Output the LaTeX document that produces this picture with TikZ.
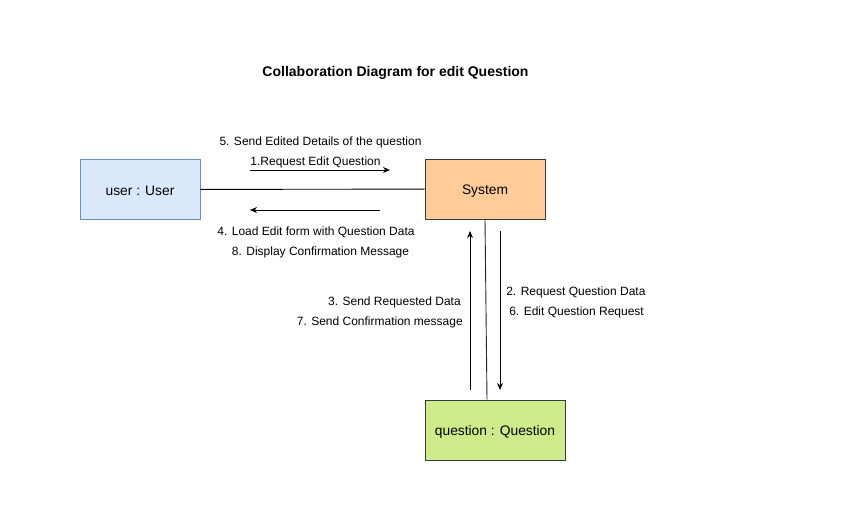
\documentclass[tikz,border=0pt]{standalone}
\usepackage{fontspec}
\setmainfont{Liberation Sans}
\usetikzlibrary{arrows.meta}
\definecolor{userfill}{HTML}{DAE8FC}
\definecolor{userline}{HTML}{6C8EBF}
\definecolor{sysfill}{HTML}{FFCC99}
\definecolor{qfill}{HTML}{CDEB8B}
\definecolor{boxline}{HTML}{36393D}
\begin{document}
\begin{tikzpicture}[x=1pt,y=-1pt,semithick]
        \tikzstyle{objnode}=[
            rectangle,
            draw=boxline,
            minimum width=120pt,
            minimum height=60pt,
            inner sep=0pt,
            text height=11.5pt,
            text depth=0pt,
            font=\fontsize{13.8}{16}\selectfont
        ]
        \tikzstyle{msglabel}=[
            inner sep=0pt,
            font=\fontsize{12}{14}\selectfont
        ]
        \tikzstyle{msgarrow}=[-{Stealth[length=7pt,width=6pt]}, line width=0.9pt]

        \useasboundingbox (0,0) rectangle (850,523);

        \node[font=\bfseries\fontsize{14}{16}\selectfont] (title) at (395.5,72.5){Collaboration Diagram for edit Question};

        \node[objnode, fill=userfill, draw=userline] (U) at (140,189.5){user : User};
        \node[objnode, fill=sysfill] (S) at (485,189){System};
        \node[objnode, fill=qfill, minimum width=140pt] (Q) at (495,430){question : Question};

        % links
        \draw[line width=0.9pt] (U) -- (S);
        \draw[line width=0.9pt, black!85] (S.south) -- (Q.north -| 487,0);

        % message arrows
        \coordinate (r1) at (250,170);
        \coordinate (r2) at (390,170);
        \coordinate (l1) at (380,210);
        \coordinate (l2) at (250,210);
        \coordinate (u1) at (470,390);
        \coordinate (u2) at (470,231);
        \coordinate (d1) at (500,231);
        \coordinate (d2) at (500,390);
        \draw[msgarrow] (r1) -- (r2);
        \draw[msgarrow] (l1) -- (l2);
        \draw[msgarrow] (u1) -- (u2);
        \draw[msgarrow] (d1) -- (d2);

        % message labels
        \node[msglabel] (m5) at (320.5,142){5. Send Edited Details of the question};
        \node[msglabel] (m1) at (315.5,162){1.Request Edit Question};
        \node[msglabel] (m4) at (316,232){4. Load Edit form with Question Data};
        \node[msglabel] (m8) at (320.5,252){8. Display Confirmation Message};
        \node[msglabel, anchor=east] (m3) at (461,302){3. Send Requested Data};
        \node[msglabel, anchor=east] (m7) at (463,322){7. Send Confirmation message};
        \node[msglabel, anchor=west] (m2) at (506,292){2. Request Question Data};
        \node[msglabel, anchor=west] (m6) at (509,312){6. Edit Question Request};
\end{tikzpicture}
\end{document}
